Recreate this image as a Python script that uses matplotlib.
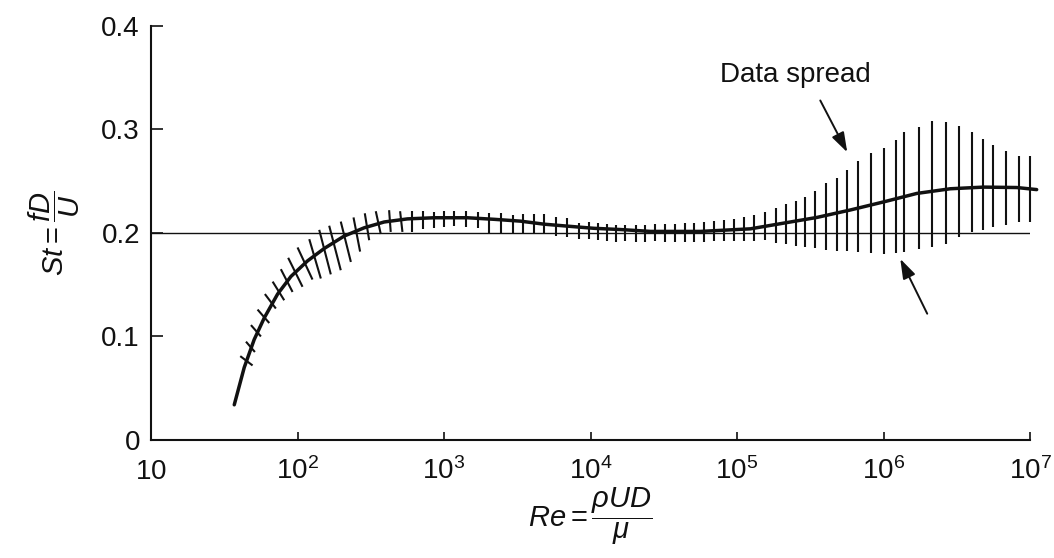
import numpy as np
import matplotlib
matplotlib.use("Agg")
import matplotlib.pyplot as plt
from matplotlib.ticker import FixedLocator, FixedFormatter, NullLocator

plt.rcParams['font.family'] = ['Liberation Sans', 'DejaVu Sans']
plt.rcParams['mathtext.fontset'] = 'custom'
plt.rcParams['mathtext.rm'] = 'Liberation Sans'
plt.rcParams['mathtext.it'] = 'Liberation Sans:italic'
plt.rcParams['mathtext.bf'] = 'Liberation Sans:bold'

# ---------------- data ----------------
# mean Strouhal curve: log10(Re), St
mean_log_re = [1.568, 1.636, 1.704, 1.773, 1.864, 1.955, 2.068, 2.182, 2.318, 2.455,
               2.591, 2.750, 2.932, 3.159, 3.341, 3.523, 3.682, 3.841, 4.023, 4.205,
               4.409, 4.750, 5.091, 5.318, 5.545, 5.773, 6.000, 6.227, 6.455, 6.682,
               6.909, 7.045]
mean_st = [0.034, 0.070, 0.097, 0.118, 0.141, 0.158, 0.173, 0.185, 0.197, 0.205,
           0.2106, 0.2136, 0.2147, 0.2147, 0.2132, 0.2114, 0.2085, 0.2066, 0.2045, 0.2033,
           0.2015, 0.2015, 0.204, 0.2095, 0.215, 0.2222, 0.230, 0.2382, 0.2427, 0.2443,
           0.2439, 0.2419]

# reference line St = 0.2
ref_log_re = [1.0, 7.0]
ref_st = [0.2, 0.2]

# slanted spread marks on the rising branch: (log Re, St) of both ends
slant_log_re_a = [1.609, 1.648, 1.682, 1.727, 1.777, 1.830, 1.886, 1.936, 2.000,
                  2.080, 2.148, 2.216, 2.295, 2.382, 2.459, 2.534, 2.625, 2.700]
slant_st_a = [0.081, 0.095, 0.111, 0.126, 0.141, 0.153, 0.165, 0.176, 0.186,
              0.194, 0.203, 0.207, 0.211, 0.215, 0.219, 0.221, 0.222, 0.221]
slant_log_re_b = [1.693, 1.709, 1.750, 1.807, 1.852, 1.909, 1.966, 2.034, 2.102,
                  2.159, 2.227, 2.295, 2.364, 2.427, 2.489, 2.568, 2.636, 2.716]
slant_st_b = [0.072, 0.085, 0.100, 0.113, 0.127, 0.135, 0.143, 0.148, 0.155,
              0.156, 0.160, 0.164, 0.172, 0.182, 0.193, 0.199, 0.201, 0.201]

# vertical data-spread bars: log Re, low St, high St
bar_log_re = [2.779, 2.854, 2.929, 2.998, 3.070, 3.150, 3.230, 3.309, 3.389, 3.468,
              3.536, 3.611, 3.680, 3.764, 3.839, 3.918, 3.986, 4.048, 4.111, 4.173,
              4.238, 4.307, 4.375, 4.443, 4.511, 4.579, 4.648, 4.709, 4.773, 4.841,
              4.909, 4.977, 5.045, 5.118, 5.188, 5.266, 5.336, 5.404, 5.466, 5.534,
              5.609, 5.682, 5.750, 5.825, 5.914, 6.000, 6.084, 6.141, 6.245, 6.329,
              6.425, 6.518, 6.602, 6.682, 6.750, 6.836, 6.927, 7.000]
bar_lo = [0.2005, 0.2040, 0.2049, 0.2057, 0.2069, 0.2061, 0.2050, 0.2000, 0.2002, 0.2004,
          0.1999, 0.2001, 0.2003, 0.1972, 0.1958, 0.1944, 0.1939, 0.1931, 0.1922, 0.1917,
          0.1919, 0.1914, 0.1916, 0.1918, 0.1913, 0.1915, 0.1917, 0.1915, 0.1917, 0.1918,
          0.1920, 0.1922, 0.1924, 0.1926, 0.1928, 0.1907, 0.1889, 0.1878, 0.1869, 0.1855,
          0.1840, 0.1826, 0.1821, 0.1813, 0.1809, 0.1801, 0.1804, 0.1812, 0.1841, 0.1869,
          0.1894, 0.1963, 0.2014, 0.2032, 0.2057, 0.2079, 0.2105, 0.2107]
bar_hi = [0.2215, 0.2217, 0.2206, 0.2208, 0.2210, 0.2212, 0.2204, 0.2197, 0.2192, 0.2178,
          0.2180, 0.2181, 0.2183, 0.2153, 0.2145, 0.2101, 0.2103, 0.2095, 0.2086, 0.2081,
          0.2077, 0.2078, 0.2080, 0.2082, 0.2084, 0.2086, 0.2094, 0.2095, 0.2104, 0.2112,
          0.2124, 0.2135, 0.2154, 0.2178, 0.2200, 0.2241, 0.2276, 0.2304, 0.2345, 0.2406,
          0.2487, 0.2531, 0.2605, 0.2699, 0.2774, 0.2825, 0.2896, 0.2980, 0.3022, 0.3080,
          0.3076, 0.3035, 0.2972, 0.2908, 0.2845, 0.2791, 0.2744, 0.2740]

# annotation
note_text = "Data spread"
note_log_re, note_st = 5.398, 0.353
arrow1_tail = (5.568, 0.328)
arrow1_tip = (5.752, 0.278)
arrow2_tail = (6.298, 0.122)
arrow2_tip = (6.114, 0.175)

x_tick_vals = [10, 1e2, 1e3, 1e4, 1e5, 1e6, 1e7]
x_tick_labels = [r'$\mathregular{10}$', r'$\mathregular{10^{2}}$', r'$\mathregular{10^{3}}$',
                 r'$\mathregular{10^{4}}$', r'$\mathregular{10^{5}}$', r'$\mathregular{10^{6}}$',
                 r'$\mathregular{10^{7}}$']
y_tick_vals = [0, 0.1, 0.2, 0.3, 0.4]
y_tick_labels = ['0', '0.1', '0.2', '0.3', '0.4']

# ---------------- figure ----------------
ink = '#111111'
fig = plt.figure(figsize=(10.54, 5.58), dpi=100)
ax = fig.add_axes([0.1433, 0.2115, 0.834, 0.742])
ax.set_xscale('log')
ax.set_xlim(10, 1e7)
ax.set_ylim(0, 0.4)

pw = lambda arr: np.power(10.0, np.asarray(arr))

ax.plot(pw(ref_log_re), ref_st, color=ink, lw=1.0, solid_capstyle='butt', zorder=2)
ax.plot(pw(mean_log_re), mean_st, color=ink, lw=2.5, clip_on=False, zorder=4,
        solid_capstyle='round')
for ra, sa, rb, sb in zip(slant_log_re_a, slant_st_a, slant_log_re_b, slant_st_b):
    ax.plot(pw([ra, rb]), [sa, sb], color=ink, lw=1.5, solid_capstyle='butt', zorder=3)
ax.vlines(pw(bar_log_re), bar_lo, bar_hi, color=ink, lw=1.5, clip_on=False, zorder=3)

ax.text(10 ** note_log_re, note_st, note_text, ha='center', va='center',
        fontsize=20, color=ink)
arrow_props = dict(arrowstyle='-|>,head_length=0.6,head_width=0.2', lw=1.4,
                   color=ink, mutation_scale=20, shrinkA=0, shrinkB=0)
ax.annotate('', xy=(10 ** arrow1_tip[0], arrow1_tip[1]),
            xytext=(10 ** arrow1_tail[0], arrow1_tail[1]), arrowprops=arrow_props)
ax.annotate('', xy=(10 ** arrow2_tip[0], arrow2_tip[1]),
            xytext=(10 ** arrow2_tail[0], arrow2_tail[1]), arrowprops=arrow_props)

# axes styling
for s in ('top', 'right'):
    ax.spines[s].set_visible(False)
for s in ('left', 'bottom'):
    ax.spines[s].set_linewidth(1.5)
    ax.spines[s].set_color(ink)

ax.xaxis.set_major_locator(FixedLocator(x_tick_vals))
ax.xaxis.set_major_formatter(FixedFormatter(x_tick_labels))
ax.xaxis.set_minor_locator(NullLocator())
ax.yaxis.set_major_locator(FixedLocator(y_tick_vals))
ax.yaxis.set_major_formatter(FixedFormatter(y_tick_labels))
ax.tick_params(axis='x', direction='in', length=5.5, width=1.2, color=ink,
               labelsize=20, pad=28, labelcolor=ink)
ax.tick_params(axis='y', direction='in', length=8.5, width=1.2, color=ink,
               labelsize=20, pad=8, labelcolor=ink)
for lbl in ax.get_xticklabels():
    lbl.set_verticalalignment('baseline')

ax.set_xlabel(r'$Re = \dfrac{\rho UD}{\mu}$', fontsize=21, color=ink)
ax.xaxis.set_label_coords(0.5, -0.11)
ax.set_ylabel(r'$St = \dfrac{fD}{U}$', fontsize=21, color=ink)
ax.yaxis.set_label_coords(-0.078, 0.5)

fig.savefig('out.png', dpi=100)
